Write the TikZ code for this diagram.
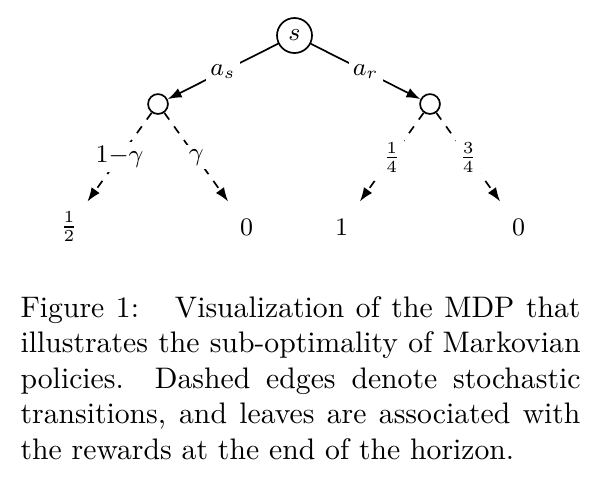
\documentclass[tikz,border=0pt]{standalone}
\usetikzlibrary{arrows.meta}
\begin{document}
\begin{tikzpicture}[x=0.357pt,y=-0.357pt,
  every node/.style={font=\fontsize{9.2}{11}\selectfont},
  state/.style={circle,draw,line width=0.6pt,minimum size=12.5pt,inner sep=0pt},
  chance/.style={circle,draw,line width=0.6pt,minimum size=7.1pt,inner sep=0pt},
  leaf/.style={circle,minimum size=22pt,inner sep=0pt},
  act/.style={line width=0.6pt,-{Latex[length=5pt,width=3.6pt]}},
  trans/.style={act,dashed},
  lab/.style={fill=white,inner sep=1.5pt}
]
\useasboundingbox (0,0) rectangle (599,485);
\node[state] (s) at (294.5,35.5) {$s$};
\node[chance] (cl) at (158,104) {};
\node[chance] (cr) at (430,104) {};
\node[leaf] (l1) at (69,227) {$\frac12$};
\node[leaf] (l2) at (246.5,227) {$0$};
\node[leaf] (l3) at (341.5,227) {$1$};
\node[leaf] (l4) at (518.5,227) {$0$};
\draw[act] (s) -- node[lab]{$a_s$} (cl);
\draw[act] (s) -- node[lab]{$a_r$} (cr);
\draw[trans] (cl) -- node[lab]{$1{-}\gamma$} (l1);
\draw[trans] (cl) -- node[lab]{$\gamma$} (l2);
\draw[trans] (cr) -- node[lab]{$\frac14$} (l3);
\draw[trans] (cr) -- node[lab]{$\frac34$} (l4);
\node[anchor=base west, inner sep=0pt, text width=199.9pt, align=justify,
      font=\fontsize{10.6}{12.68}\selectfont] (cap) at (20,317)
  {Figure 1:\hskip 1em plus 0.6em Visualization of the MDP that\linebreak
   illustrates the sub-optimality of Markovian\linebreak
   policies. Dashed edges denote stochastic\linebreak
   transitions, and leaves are associated with\linebreak
   the rewards at the end of the horizon.};
\end{tikzpicture}
\end{document}
